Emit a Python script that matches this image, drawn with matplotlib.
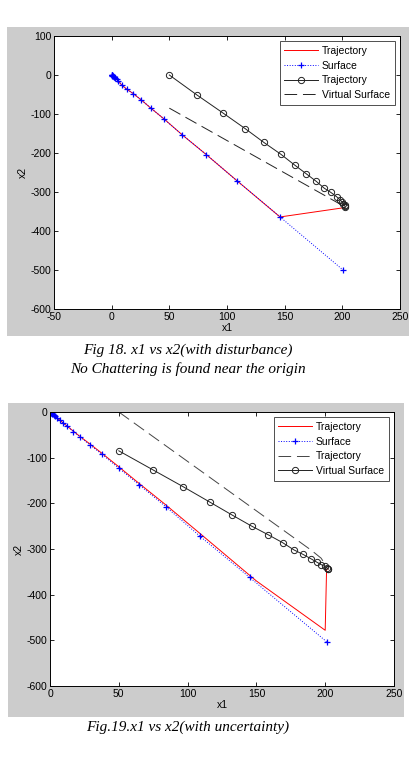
import matplotlib.pyplot as plt
from matplotlib.patches import Rectangle

# ---- Fig 18 data (with disturbance) ----
surf18_x = [201, 146, 109, 82, 61, 45.5, 34, 25.7, 18.8, 13, 8.7, 5.8, 4.3, 3.2, 2.4, 1.8, 1.3, 1.0, 0.7, 0.5, 0.3, 0.1, 0]
surf18_y = [-501, -364, -272, -204, -153, -113, -85, -64, -48, -36, -26, -15, -11, -8, -6, -4.5, -3.3, -2.5, -1.8, -1.2, -0.8, -0.3, 0]
traj18_x = [202, 146, 109, 82, 61, 45.5, 34, 25.7, 18.8, 13, 8.7, 5.8, 4.3, 3.2, 2.4, 1.8, 1.3, 1.0, 0.7, 0.5, 0.3, 0.1, 0]
traj18_y = [-340, -364, -272, -204, -153, -113, -85, -64, -48, -36, -26, -15, -11, -8, -6, -4.5, -3.3, -2.5, -1.8, -1.2, -0.8, -0.3, 0]
circ18_x = [50, 74.3, 96.3, 116, 132, 146.6, 158.7, 168.6, 177.5, 184.2, 190, 195, 198, 200, 201, 202, 202.3, 202.5]
circ18_y = [0, -52, -97, -138, -173, -203, -231, -253, -273, -290, -301, -312, -320, -326, -331, -334, -337, -339]
virt18_x = [50, 195, 202]
virt18_y = [-85, -326, -338]

# ---- Fig 19 data (with uncertainty) ----
surf19_x = [201, 145, 109, 84, 65, 50, 38, 29, 22, 17, 12.5, 9.5, 7, 5.2, 3.8, 2.8, 2.0, 1.4, 1.0, 0.6, 0.3, 0]
surf19_y = [-503, -362, -272, -207, -160, -123, -93, -72, -55, -43, -31, -24, -17.5, -13, -9.5, -7, -5, -3.5, -2.5, -1.5, -0.8, 0]
traj19_x = [202, 201, 200, 150, 109, 84, 65, 50, 38, 29, 22, 17, 12.5, 9.5, 7, 5.2, 3.8, 2.8, 2.0, 1.0, 0]
traj19_y = [-343, -345, -478, -370, -266, -203, -157, -120, -91, -70, -54, -42, -31, -24, -17.5, -13, -9.5, -7, -5, -2.5, 0]
dash19_x = [50, 190, 197, 201]
dash19_y = [0, -303, -320, -338]
circ19_x = [50, 75, 97, 116, 132, 146.6, 158.7, 169, 177.3, 184, 190, 194, 197, 199.5, 201, 202, 202.3]
circ19_y = [-85, -127, -164, -197, -225, -250, -269, -286, -302, -312, -322, -329, -334, -338, -341, -343, -344]

plt.rcParams['font.family'] = ['Liberation Sans', 'DejaVu Sans']
plt.rcParams['axes.unicode_minus'] = False

W, H = 413, 759
fig = plt.figure(figsize=(W / 100, H / 100), dpi=100)
fig.patch.set_facecolor('white')


def px_rect(l, t, r, b):
    return [l / W, 1 - b / H, (r - l) / W, (b - t) / H]


# gray MATLAB figure backgrounds
for l, t, r, b in [(7, 27, 409, 336), (8, 403, 404, 717)]:
    fig.patches.append(Rectangle((l / W, 1 - b / H), (r - l) / W, (b - t) / H,
                                 transform=fig.transFigure, facecolor='#cccccc',
                                 edgecolor='none', zorder=-10))


def style_axes(ax, xlim, ylim, xticks, yticks):
    ax.set_xlim(*xlim)
    ax.set_ylim(*ylim)
    ax.set_xticks(xticks)
    ax.set_yticks(yticks)
    ax.tick_params(direction='in', length=3, width=0.6, labelsize=7.5,
                   top=True, right=True, pad=2)
    for s in ax.spines.values():
        s.set_linewidth(0.7)
    ax.set_xlabel('x1', fontsize=7.5, labelpad=1)
    ax.set_ylabel('x2', fontsize=7.5, labelpad=2)


dash = (0, (13, 6))

# ---- top chart ----
ax1 = fig.add_axes(px_rect(54, 36, 400, 309))
l1, = ax1.plot(traj18_x, traj18_y, color='#ff0000', lw=0.7)
l2, = ax1.plot(surf18_x, surf18_y, color='#0000ff', lw=0.7, ls=':', marker='+', ms=5, mew=0.9)
l3, = ax1.plot(circ18_x, circ18_y, color='#222222', lw=0.7, marker='o', ms=4.5,
               mfc='none', mew=0.7)
l4, = ax1.plot(virt18_x, virt18_y, color='#222222', lw=0.7, ls=dash)
style_axes(ax1, (-50, 250), (-600, 100), range(-50, 251, 50), range(-600, 101, 100))
leg1 = ax1.legend([l1, l2, l3, l4], ['Trajectory', 'Surface', 'Trajectory', 'Virtual Surface'],
                  loc='upper right', fontsize=7.5, frameon=True, fancybox=False,
                  handlelength=3.2, handletextpad=0.4, borderpad=0.45, labelspacing=0.45,
                  borderaxespad=0.5)
leg1.get_frame().set_edgecolor('#222222')
leg1.get_frame().set_linewidth(0.7)

fig.text(188 / W, 1 - 350 / H, 'Fig 18. x1 vs x2(with disturbance)', ha='center', va='center',
         fontsize=11, style='italic', family='Liberation Serif')
fig.text(188 / W, 1 - 369 / H, 'No Chattering is found near the origin', ha='center', va='center',
         fontsize=11, style='italic', family='Liberation Serif')

# ---- bottom chart ----
ax2 = fig.add_axes(px_rect(50, 412, 394, 686))
m1, = ax2.plot(traj19_x, traj19_y, color='#ff0000', lw=0.7)
m2, = ax2.plot(surf19_x, surf19_y, color='#0000ff', lw=0.7, ls=':', marker='+', ms=5, mew=0.9)
m3, = ax2.plot(dash19_x, dash19_y, color='#444444', lw=0.7, ls=dash)
m4, = ax2.plot(circ19_x, circ19_y, color='#222222', lw=0.7, marker='o', ms=4.5,
               mfc='none', mew=0.7)
style_axes(ax2, (0, 250), (-600, 0), range(0, 251, 50), range(-600, 1, 100))
leg2 = ax2.legend([m1, m2, m3, m4], ['Trajectory', 'Surface', 'Trajectory', 'Virtual Surface'],
                  loc='upper right', fontsize=7.5, frameon=True, fancybox=False,
                  handlelength=3.2, handletextpad=0.4, borderpad=0.45, labelspacing=0.45,
                  borderaxespad=0.5)
leg2.get_frame().set_edgecolor('#222222')
leg2.get_frame().set_linewidth(0.7)

fig.text(188 / W, 1 - 727 / H, 'Fig.19.x1 vs x2(with uncertainty)', ha='center', va='center',
         fontsize=11, style='italic', family='Liberation Serif')

fig.savefig('out.png', dpi=100)
